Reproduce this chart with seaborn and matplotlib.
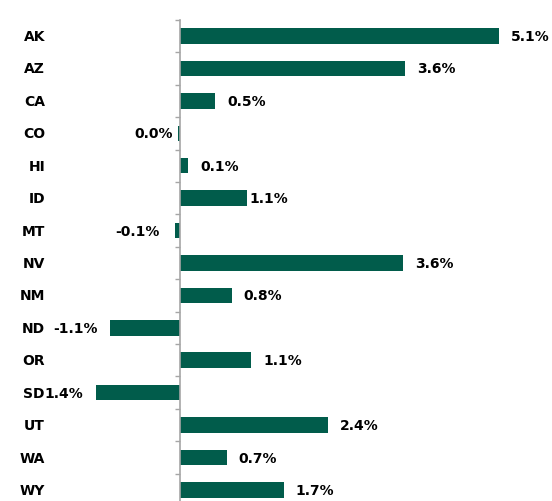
import matplotlib
matplotlib.use("Agg")
import matplotlib.pyplot as plt
import matplotlib.transforms as mtransforms
import seaborn as sns
import pandas as pd

states = ["AK", "AZ", "CA", "CO", "HI", "ID", "MT", "NV", "NM", "ND", "OR", "SD", "UT", "WA", "WY"]
values = [5.1, 3.6, 0.56, -0.03, 0.13, 1.07, -0.08, 3.57, 0.83, -1.12, 1.14, -1.35, 2.37, 0.75, 1.66]
value_labels = ["5.1%", "3.6%", "0.5%", "0.0%", "0.1%", "1.1%", "-0.1%", "3.6%", "0.8%",
                "-1.1%", "1.1%", "1.4%", "2.4%", "0.7%", "1.7%"]

# small per-label gap adjustments (in pixels) reproducing the reference placement
label_nudge = {"ID": -9, "CO": -7, "MT": 3}

df = pd.DataFrame({"state": states, "value": values})

sns.set_style("white")
plt.rcParams["font.family"] = ["DejaVu Sans"]

W, H, DPI = 552, 502, 100
fig = plt.figure(figsize=(W / DPI, H / DPI), dpi=DPI)
top_px = 20.8
ax = fig.add_axes([0, 0, 1, 1 - top_px / H])

bar_color = "#015c4b"
sns.barplot(data=df, y="state", x="value", orient="h", color=bar_color,
            width=0.48, edgecolor="none", saturation=1, ax=ax)

px_per_unit = 62.5
zero_px = 180
ax.set_xlim(-zero_px / px_per_unit, (W - zero_px) / px_per_unit)
ax.set_ylim(14.34, -0.5)

for s in ["top", "right", "bottom"]:
    ax.spines[s].set_visible(False)
ax.spines["left"].set_position(("data", 0))
ax.spines["left"].set_color("#a6a6a6")
ax.spines["left"].set_linewidth(1.2)
ax.spines["left"].set_zorder(4)

ax.set_yticks([i - 0.5 for i in range(len(states))])
ax.set_yticklabels([])
ax.tick_params(axis="y", direction="out", length=3.8, width=1.0, color="#a6a6a6", left=True)
ax.set_xticks([])
ax.set_xlabel("")
ax.set_ylabel("")

# category labels
trans = mtransforms.blended_transform_factory(fig.transFigure, ax.transData)
for i, s in enumerate(states):
    ax.text(45 / W, i, s, transform=trans, ha="right", va="center",
            fontsize=10, fontweight="bold", color="#000000")

# value labels
for i, (s, v, lab) in enumerate(zip(states, values, value_labels)):
    off = 12 + label_nudge.get(s, 0)
    if v >= 0:
        ax.annotate(lab, xy=(v, i), xytext=(off * 72 / DPI, 0), textcoords="offset points",
                    ha="left", va="center", fontsize=10, fontweight="bold", color="#000000")
    else:
        ax.annotate(lab, xy=(v, i), xytext=(-off * 72 / DPI, 0), textcoords="offset points",
                    ha="right", va="center", fontsize=10, fontweight="bold", color="#000000")

fig.savefig("out.png", dpi=DPI)
